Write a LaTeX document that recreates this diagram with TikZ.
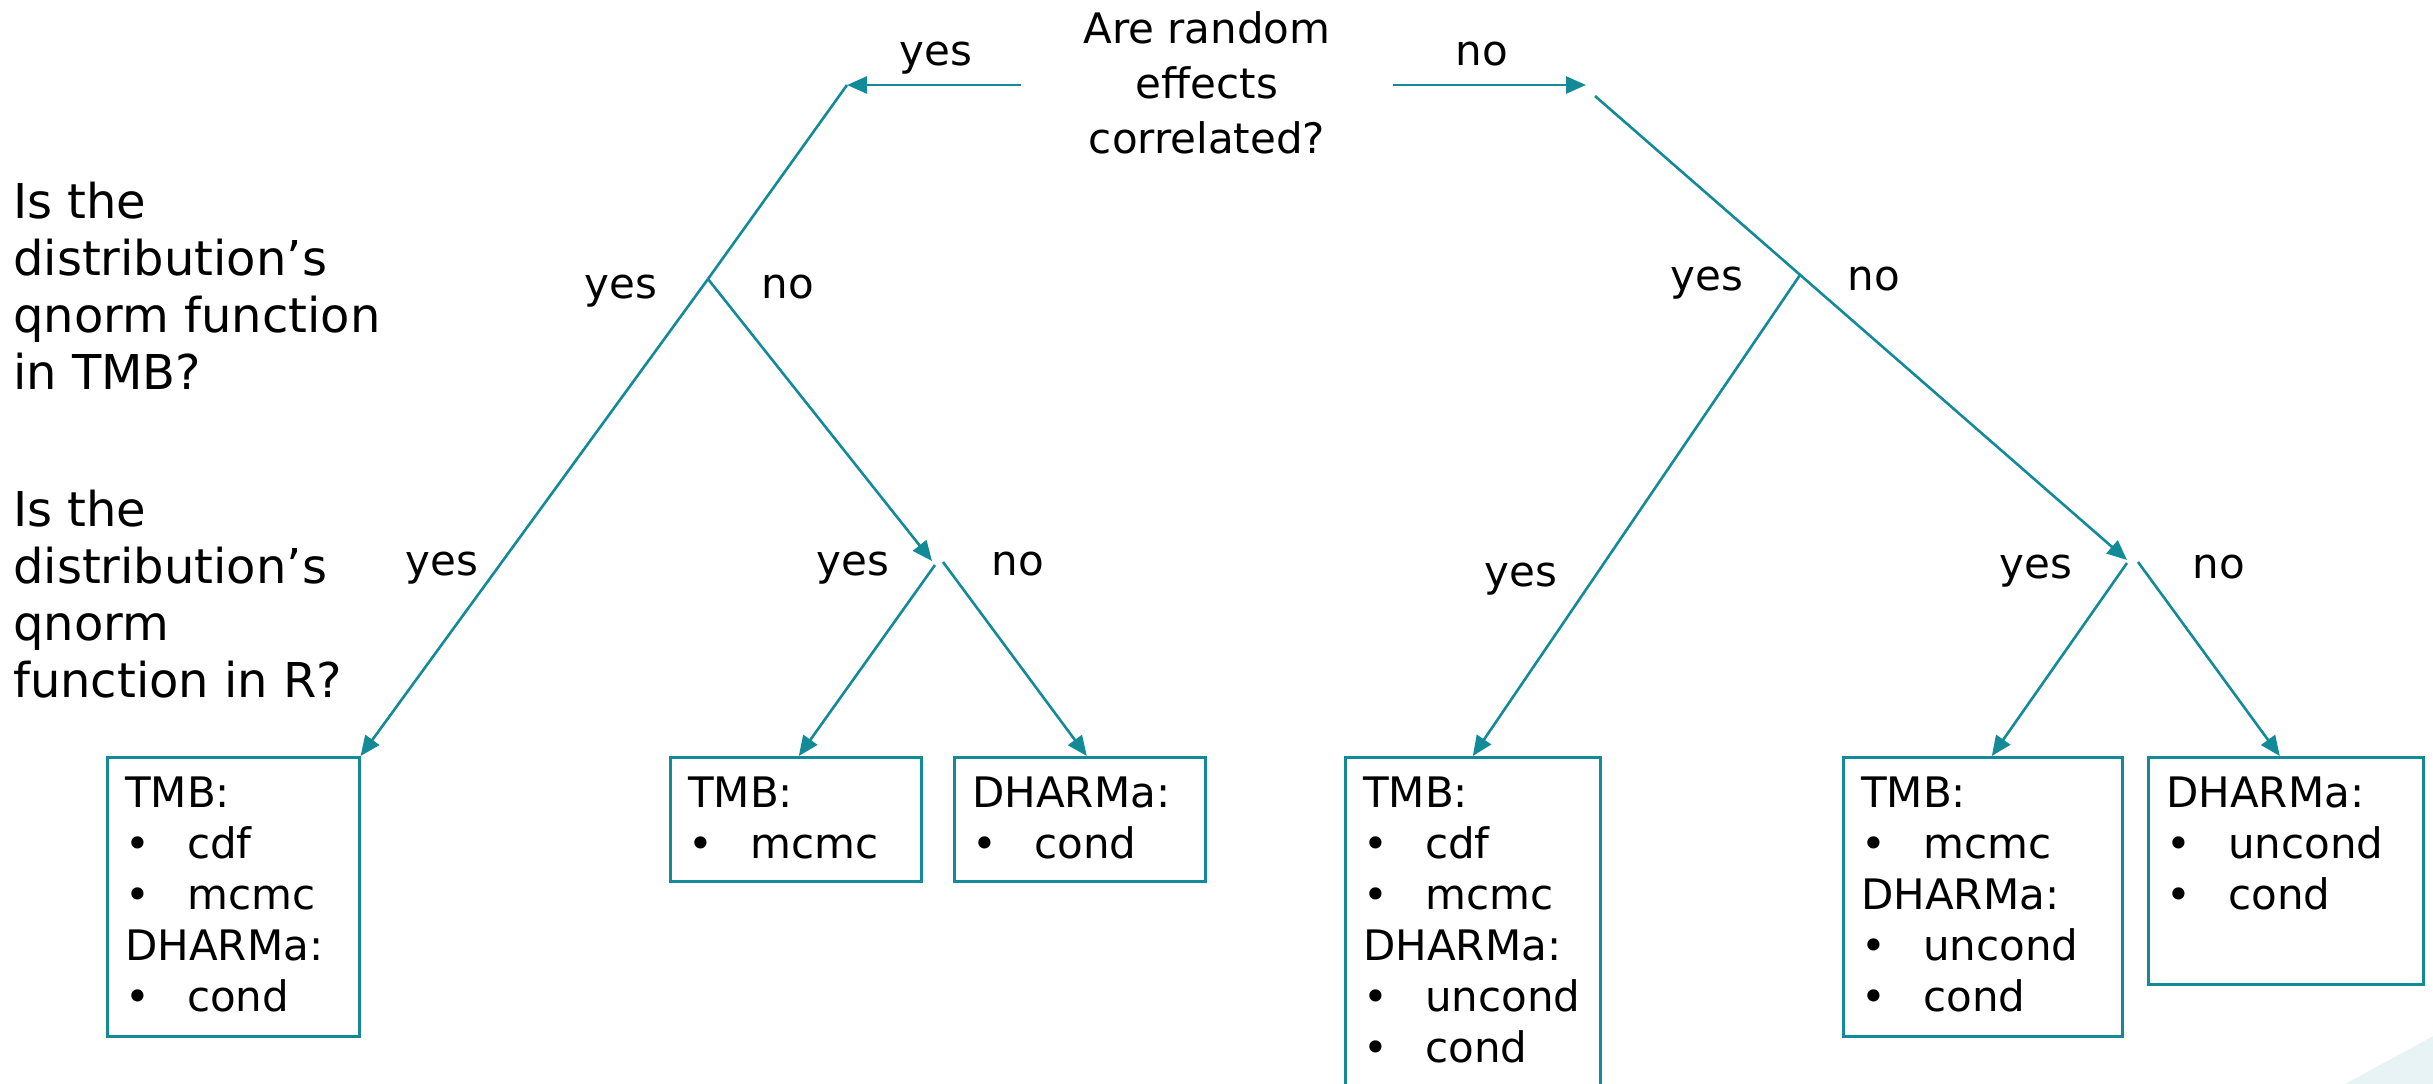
\documentclass[tikz,border=0pt]{standalone}
\usepackage{fontspec}
\setmainfont{DejaVu Sans}
\usetikzlibrary{arrows.meta}
\definecolor{tealline}{RGB}{18,138,152}
\definecolor{decofill}{RGB}{232,243,245}
\begin{document}
\begin{tikzpicture}[x=1pt,y=-1pt,
  conn/.style={draw=tealline, line width=2.6pt},
  arr/.style={conn, -{Triangle[length=20pt,width=17pt]}},
  box/.style={draw=tealline, line width=2.6pt, inner sep=0pt, anchor=north west},
  boxtext/.style={inner sep=0pt, anchor=north west, align=left, font=\fontsize{42}{51}\selectfont},
  qtext/.style={inner sep=0pt, anchor=north west, align=left, font=\fontsize{48}{57}\selectfont},
  lbl/.style={inner sep=0pt, anchor=base, font=\fontsize{42}{50}\selectfont},
]
\newcommand{\itm}[1]{\makebox[62pt][l]{•}#1}
\useasboundingbox (0,0) rectangle (2433,1084);
\clip (0,0) rectangle (2433,1084);
\fill[decofill] (2345,1084) .. controls (2385,1062) and (2410,1049) .. (2433,1036) -- (2433,1084) -- cycle;

% questions
\node[inner sep=0pt, anchor=north, align=center, font=\fontsize{42}{55}\selectfont] (q0) at (1207,11) {Are random\\effects\\correlated?};
\node[qtext] (q1) at (13,182) {Is the\\distribution’s\\qnorm function\\in TMB?};
\node[qtext] (q2) at (13,490) {Is the\\distribution’s\\qnorm\\function in R?};

% boxes
\node[box, minimum width=252pt, minimum height=279pt] (b1) at (106,756) {};
\node[box, minimum width=251pt, minimum height=124pt] (b2) at (669,756) {};
\node[box, minimum width=251pt, minimum height=124pt] (b3) at (953,756) {};
\node[box, minimum width=255pt, minimum height=360pt] (b4) at (1344,756) {};
\node[box, minimum width=279pt, minimum height=279pt] (b5) at (1842,756) {};
\node[box, minimum width=275pt, minimum height=227pt] (b6) at (2147,756) {};

\node[boxtext] (t1) at (125,777) {TMB:\\\itm{cdf}\\\itm{mcmc}\\DHARMa:\\\itm{cond}};
\node[boxtext] (t2) at (688,777) {TMB:\\\itm{mcmc}};
\node[boxtext] (t3) at (972,777) {DHARMa:\\\itm{cond}};
\node[boxtext] (t4) at (1363,777) {TMB:\\\itm{cdf}\\\itm{mcmc}\\DHARMa:\\\itm{uncond}\\\itm{cond}};
\node[boxtext] (t5) at (1861,777) {TMB:\\\itm{mcmc}\\DHARMa:\\\itm{uncond}\\\itm{cond}};
\node[boxtext] (t6) at (2166,777) {DHARMa:\\\itm{uncond}\\\itm{cond}};

% junction coordinates
\coordinate (tl) at (1021,85);
\coordinate (al) at (847,85);
\coordinate (tr) at (1393,85);
\coordinate (ar) at (1586,85);
\coordinate (dr) at (1595,96);
\coordinate (j1) at (708,279);
\coordinate (j2) at (932,561);
\coordinate (j2y) at (935,565);
\coordinate (j2n) at (943,562);
\coordinate (j3) at (1800,275);
\coordinate (j4) at (2127,560);
\coordinate (j4y) at (2127,563);
\coordinate (j4n) at (2138,562);

% connectors
\draw[arr] (tl) -- (al);
\draw[arr] (tr) -- (ar);
\draw[conn] (al) -- (j1);
\draw[arr] (j1) -- (b1.north east);
\draw[arr] (j1) -- (j2);
\draw[arr] (j2y) -- ([xshift=3pt]b2.north);
\draw[arr] (j2n) -- ([xshift=7pt]b3.north);
\draw[arr] (dr) -- (j4);
\draw[arr] (j3) -- (b4.north);
\draw[arr] (j4y) -- ([xshift=9pt]b5.north);
\draw[arr] (j4n) -- ([xshift=-6pt]b6.north);

% labels
\node[lbl] (ly0) at (936,65) {yes};
\node[lbl] (ln0) at (1482,65) {no};
\node[lbl] (ly1) at (621,298) {yes};
\node[lbl] (ln1) at (788,298) {no};
\node[lbl] (ly2) at (442,575) {yes};
\node[lbl] (ly3) at (853,575) {yes};
\node[lbl] (ln3) at (1018,575) {no};
\node[lbl] (ly4) at (1707,290) {yes};
\node[lbl] (ln4) at (1874,290) {no};
\node[lbl] (ly5) at (1521,586) {yes};
\node[lbl] (ly6) at (2036,578) {yes};
\node[lbl] (ln6) at (2219,578) {no};
\end{tikzpicture}
\end{document}
